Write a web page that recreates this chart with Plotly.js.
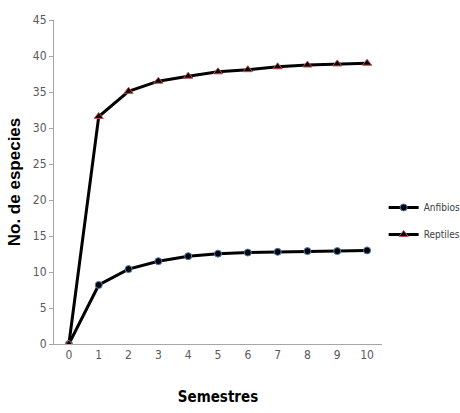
<!DOCTYPE html>
<html>
<head>
<meta charset="utf-8">
<script src="https://cdn.plot.ly/plotly-3.0.1.min.js"></script>
<style>html,body{margin:0;padding:0;background:#fff;}#chart{width:460px;height:413px;}</style>
</head>
<body>
<div id="chart"></div>
<script>
const semestres = [0, 1, 2, 3, 4, 5, 6, 7, 8, 9, 10];
const anfibios = [0, 8.2, 10.4, 11.5, 12.2, 12.55, 12.7, 12.8, 12.9, 12.9, 13.0];
const reptiles = [0, 31.6, 35.1, 36.5, 37.2, 37.8, 38.1, 38.5, 38.75, 38.9, 39.0];
const seriesNames = ['Anfibios', 'Reptiles'];
const yTicks = [0, 5, 10, 15, 20, 25, 30, 35, 40, 45];

const narrow = '"DejaVu Sans Condensed", "DejaVu Sans", sans-serif';

const traces = [
  {
    x: semestres, y: anfibios, name: seriesNames[0], type: 'scatter', mode: 'lines+markers',
    legendgroup: 'a',
    line: {color: '#000000', width: 3},
    marker: {symbol: 'circle', size: 7, color: '#000000', line: {color: '#4f81bd', width: 1}}
  },
  {
    x: semestres, y: reptiles, name: seriesNames[1], type: 'scatter', mode: 'lines+markers',
    legendgroup: 'b',
    line: {color: '#000000', width: 3},
    marker: {symbol: 'triangle-up', size: 8, color: '#000000', line: {color: '#c0504d', width: 1}}
  }
];

const layout = {
  width: 460, height: 413,
  margin: {l: 54, r: 78, t: 20, b: 69},
  paper_bgcolor: '#ffffff', plot_bgcolor: '#ffffff',
  font: {family: narrow, size: 12, color: '#595959'},
  xaxis: {
    range: [-0.5, 10.5], tickvals: semestres, ticktext: semestres.map(String),
    showgrid: false, zeroline: false, showline: true, linecolor: '#a6a6a6', linewidth: 1,
    ticks: '', ticklen: 0, tickfont: {family: narrow, size: 12, color: '#595959'},
    title: {text: '<b>Semestres</b>', font: {family: narrow, size: 15, color: '#000000'}, standoff: 30}
  },
  yaxis: {
    range: [0, 45], tickvals: yTicks, ticktext: yTicks.map(String),
    showgrid: false, zeroline: false, showline: true, linecolor: '#a6a6a6', linewidth: 1,
    ticks: 'outside', ticklen: 4, tickcolor: '#a6a6a6', tickfont: {family: narrow, size: 12, color: '#595959'},
    title: {text: '<b>No. de especies</b>', font: {family: 'Liberation Sans, Arial, sans-serif', size: 17, color: '#000000'}, standoff: 7}
  },
  showlegend: true,
  legend: {
    xref: 'container', yref: 'container',
    x: 0.834, y: 0.465, xanchor: 'left', yanchor: 'middle',
    traceorder: 'grouped', tracegroupgap: 8, itemwidth: 30,
    font: {family: narrow, size: 10, color: '#404040'},
    bgcolor: 'rgba(0,0,0,0)'
  }
};

Plotly.newPlot('chart', traces, layout, {displayModeBar: false, staticPlot: true});
</script>
</body>
</html>
